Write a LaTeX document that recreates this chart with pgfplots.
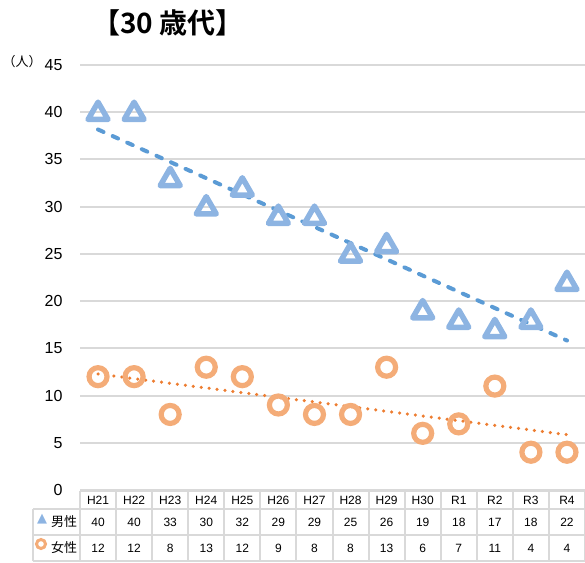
\documentclass[border=0pt]{standalone}
\usepackage{fontspec}
\setmainfont{Liberation Sans}
\newfontfamily\cjk{Noto Sans CJK JP}
\newfontfamily\cjkb{Noto Sans CJK JP Bold}
\newfontfamily\dejavu{DejaVu Sans}
\usepackage{pgfplots}
\pgfplotsset{compat=1.18}
\usepackage{pgfplotstable}

\definecolor{triblue}{HTML}{8DB4E2}
\definecolor{trendblue}{HTML}{5B9BD5}
\definecolor{circor}{HTML}{F4AC78}
\definecolor{trendor}{HTML}{ED7D31}
\definecolor{gridgray}{HTML}{D9D9D9}

\pgfplotstableread{
x male female
1 40 12
2 40 12
3 33 8
4 30 13
5 32 12
6 29 9
7 29 8
8 25 8
9 26 13
10 19 6
11 18 7
12 17 11
13 18 4
14 22 4
}\datatable

\begin{document}
\begin{tikzpicture}[x=1pt,y=1pt]
\useasboundingbox (0,0) rectangle (585,562);
\begin{axis}[at={(80pt,72pt)}, anchor=south west, scale only axis,
  width=505pt, height=425pt,
  xmin=0.5, xmax=14.5, ymin=0, ymax=45,
  axis line style={draw=none},
  major tick length=0pt,
  /pgf/number format/assume math mode=true,
  ymajorgrids, grid style={gridgray, line width=2pt},
  ytick={0,5,...,45},
  xtick={1,...,14},
  xticklabels={H21,H22,H23,H24,H25,H26,H27,H28,H29,H30,R1,R2,R3,R4},
  yticklabel style={font=\fontsize{16}{16}\selectfont, xshift=-14pt},
  xticklabel style={font=\fontsize{12}{12}\selectfont, anchor=center, yshift=-10pt},
  clip=false]
\addplot[only marks, mark=triangle, mark size=11.5pt,
  mark options={draw=triblue, fill=white, line width=5.5pt, line join=round, yshift=-1.5pt}]
  table[x=x, y=male]{\datatable};
\addplot[only marks, mark=o, mark size=9pt,
  mark options={draw=circor, fill=white, line width=5.2pt}]
  table[x=x, y=female]{\datatable};
\addplot[trendblue, line width=4pt, line cap=round, dash pattern=on 6pt off 10pt]
  table[x=x, y={create col/linear regression={y=male}}]{\datatable};
\addplot[trendor, line width=3.5pt, line cap=round, dash pattern=on 0pt off 8pt]
  table[x=x, y={create col/linear regression={y=female}}]{\datatable};
\end{axis}
% table grid
\begin{scope}[gridgray, line width=2pt]
\draw (80,71) -- (585,71);
\draw (33,53) -- (585,53);
\draw (33,27) -- (585,27);
\draw (33,1) -- (585,1);
\draw (33,1) -- (33,53);
\foreach \k in {0,...,14} \draw ({80+\k*36.0714},1) -- ({80+\k*36.0714},71);
\end{scope}
\foreach \v [count=\i] in {40,40,33,30,32,29,29,25,26,19,18,17,18,22}
  \node[font=\fontsize{12}{12}\selectfont] at ({80+(\i-0.5)*36.0714},40) {\v};
\foreach \v [count=\i] in {12,12,8,13,12,9,8,8,13,6,7,11,4,4}
  \node[font=\fontsize{12}{12}\selectfont] at ({80+(\i-0.5)*36.0714},14) {\v};
\node[text=triblue, font=\dejavu\fontsize{13}{13}\selectfont] at (42,43) {▲};
\node[font=\cjk\fontsize{13}{13}\selectfont] at (64,40) {男性};
\node[circle, draw=circor, line width=3pt, inner sep=0pt, minimum size=9pt] at (41,18) {};
\node[font=\cjk\fontsize{13}{13}\selectfont] at (64,14) {女性};
% titles
\node[font=\cjkb\fontsize{28}{28}\selectfont] at (168,539) {【30 歳代】};
\node[font=\cjk\fontsize{13}{13}\selectfont] at (22,500) {（人）};
\end{tikzpicture}
\end{document}
